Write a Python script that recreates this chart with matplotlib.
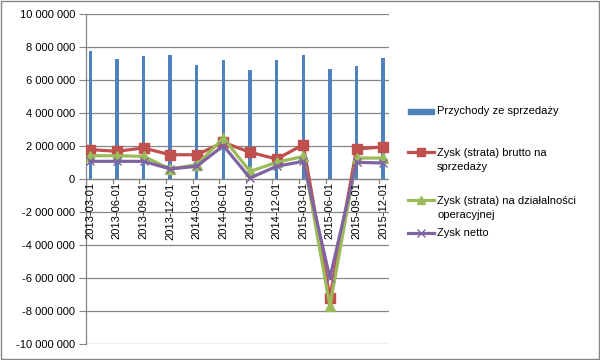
import matplotlib
matplotlib.use("Agg")
import matplotlib.pyplot as plt
from matplotlib.lines import Line2D
from matplotlib.patches import Rectangle
import numpy as np

plt.rcParams['font.family'] = ['Liberation Sans', 'DejaVu Sans']

dates = ["2013-03-01", "2013-06-01", "2013-09-01", "2013-12-01", "2014-03-01", "2014-06-01",
         "2014-09-01", "2014-12-01", "2015-03-01", "2015-06-01", "2015-09-01", "2015-12-01"]
przychody = [7780000, 7290000, 7470000, 7540000, 6930000, 7230000,
             6630000, 7230000, 7540000, 6690000, 6870000, 7350000]
brutto = [1780000, 1680000, 1880000, 1470000, 1470000, 2220000,
          1620000, 1210000, 2080000, -7200000, 1820000, 1940000]
operacyjna = [1410000, 1410000, 1370000, 610000, 870000, 2480000,
              460000, 1010000, 1370000, -7700000, 1270000, 1270000]
netto = [1070000, 1070000, 1070000, 610000, 770000, 2020000,
         60000, 770000, 1070000, -6000000, 1010000, 970000]

labels = ["Przychody ze sprzedaży", "Zysk (strata) brutto na\nsprzedaży",
          "Zysk (strata) na działalności\noperacyjnej", "Zysk netto"]

c_bar = "#4F81BD"
c_red = "#C0504D"
c_green = "#9BBB59"
c_purple = "#8064A2"
grid_c = "#868686"
FS = 8

fig = plt.figure(figsize=(6, 3.6), dpi=100)
ax = fig.add_axes([86/600, 16/360, 303/600, 330/360])

x = np.arange(len(dates))
ax.bar(x, przychody, width=0.13, color=c_bar, zorder=2)
ax.plot(x, brutto, color=c_red, lw=2.3, marker='s', ms=7, zorder=3)
ax.plot(x, operacyjna, color=c_green, lw=2.3, marker='^', ms=7, zorder=4)
ax.plot(x, netto, color=c_purple, lw=2.3, marker='x', ms=6, mew=1, zorder=5)

ax.set_ylim(-10000000, 10000000)
ax.set_xlim(-0.16, 11.22)
yt = np.arange(-10000000, 10000001, 2000000)
ax.set_yticks(yt)
ax.set_yticklabels([f"{v:,}".replace(",", " ") for v in yt], fontsize=FS)
ax.yaxis.grid(True, color=grid_c, lw=0.9, zorder=0)
ax.set_axisbelow(True)

for s in ['top', 'right', 'bottom']:
    ax.spines[s].set_visible(False)
ax.spines['left'].set_color(grid_c)
ax.spines['left'].set_linewidth(0.9)
ax.tick_params(axis='y', length=5, color=grid_c, pad=3)

# x axis at zero
ax.axhline(0, color=grid_c, lw=0.9, zorder=1)
ax.set_xticks([])
for i, d in enumerate(dates):
    ax.plot([i - 0.16, i - 0.16], [0, -250000], color=grid_c, lw=0.9, zorder=1, clip_on=False)
    ax.text(i, -200000, d, rotation=90, ha='center', va='top', fontsize=FS, zorder=6)

# legend (manual)
def fx(px):
    return px / 600
def fy(py):
    return 1 - py / 360

fig.patches.append(Rectangle((fx(408), fy(113.5)), fx(26), 5/360, color=c_bar, transform=fig.transFigure))
fig.text(fx(437), fy(111), labels[0], fontsize=FS, va='center')
for yy, col, mk, ms, lab, ty in [(152, c_red, 's', 6, labels[1], 160),
                                  (200, c_green, '^', 6, labels[2], 208),
                                  (233, c_purple, 'x', 6, labels[3], 233)]:
    fig.add_artist(Line2D([fx(408), fx(434)], [fy(yy), fy(yy)], color=col, lw=2.3,
                          transform=fig.transFigure))
    fig.add_artist(Line2D([fx(421)], [fy(yy)], color=col, marker=mk, ms=ms, mew=1,
                          transform=fig.transFigure))
    fig.text(fx(437), fy(ty), lab, fontsize=FS, va='center', linespacing=1.45)

fig.patches.append(Rectangle((0.001, 0.002), 0.997, 0.995, fill=False, edgecolor=grid_c,
                             lw=1, transform=fig.transFigure))

fig.savefig("out.png", dpi=100)
